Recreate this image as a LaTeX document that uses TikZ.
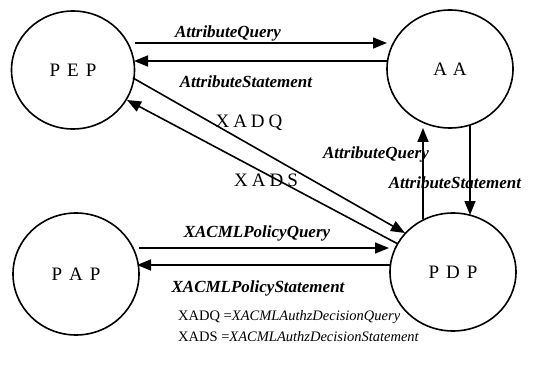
\documentclass[tikz,border=0pt]{standalone}
\usepackage{fontspec}
\setmainfont{Liberation Serif}
\usetikzlibrary{shapes.geometric,arrows.meta,calc}

\tikzset{
  party/.style={ellipse, draw, line width=1.6pt, inner sep=0pt,
    font=\fontsize{19}{22}\selectfont},
  msg/.style={line width=1.6pt, -{Triangle[length=14pt,width=11pt]}},
  msglabel/.style={inner sep=0pt, font=\fontsize{17}{20}\selectfont\bfseries\itshape},
  abbrev/.style={inner sep=0pt, font=\fontsize{19}{22}\selectfont},
  legend/.style={inner sep=0pt, anchor=west, font=\fontsize{14.5}{17}\selectfont},
}
\newcommand{\spaced}[3]{#1\hspace{7pt}#2\hspace{7pt}#3}

\begin{document}
\begin{tikzpicture}[x=1pt, y=-1pt]
  \useasboundingbox (0,0) rectangle (533,377);

  % the four parties
  \node[party, minimum width=123pt, minimum height=118pt] (PEP) at (73,70) {\spaced PEP};
  \node[party, minimum width=126pt, minimum height=118pt] (AA)  at (450,69) {A\hspace{6pt}A};
  \node[party, minimum width=126pt, minimum height=122pt] (PAP) at (76,274) {\spaced PAP};
  \node[party, minimum width=126pt, minimum height=118pt] (PDP) at (453,272) {\spaced PDP};

  % PEP <-> AA
  \draw[msg] ($(PEP.center)+(62,-27)$) -- ($(AA.center)+(-63,-26)$);
  \draw[msg] ($(AA.center)+(-63,-8)$) -- ($(PEP.center)+(61,-9)$);
  \node[msglabel] (aq1) at (228,33) {AttributeQuery};
  \node[msglabel] (as1) at (246,82) {AttributeStatement};

  % PEP <-> PDP
  \draw[msg] ($(PEP.center)+(60,8)$) -- ($(PDP.center)+(-48,-39)$);
  \draw[msg] ($(PDP.center)+(-55,-28)$) -- ($(PEP.center)+(54,30)$);
  \node[abbrev] (xadq) at (249,123) {X\hspace{4pt}A\hspace{4pt}D\hspace{4pt}Q};
  \node[abbrev] (xads) at (266,180) {X\hspace{4pt}A\hspace{4pt}D\hspace{4pt}S};

  % PDP <-> AA
  \draw[msg] ($(PDP.center)+(-30,-53)$) -- ($(AA.center)+(-27,59)$);
  \draw[msg] ($(AA.center)+(20,56)$) -- ($(PDP.center)+(17,-57)$);
  \node[msglabel] (aq2) at (376,154) {AttributeQuery};
  \node[msglabel] (as2) at (455,183) {AttributeStatement};

  % PAP <-> PDP
  \draw[msg] ($(PAP.center)+(63,-26)$) -- ($(PDP.center)+(-64,-24)$);
  \draw[msg] ($(PDP.center)+(-63,-7)$) -- ($(PAP.center)+(61,-9)$);
  \node[msglabel] (pq) at (257,233) {XACMLPolicyQuery};
  \node[msglabel] (ps) at (258,288) {XACMLPolicyStatement};

  % abbreviations
  \node[legend] (leg1) at (178,317) {XADQ =\textit{XACMLAuthzDecisionQuery}};
  \node[legend] (leg2) at (178,337) {XADS =\textit{XACMLAuthzDecisionStatement}};
\end{tikzpicture}
\end{document}
